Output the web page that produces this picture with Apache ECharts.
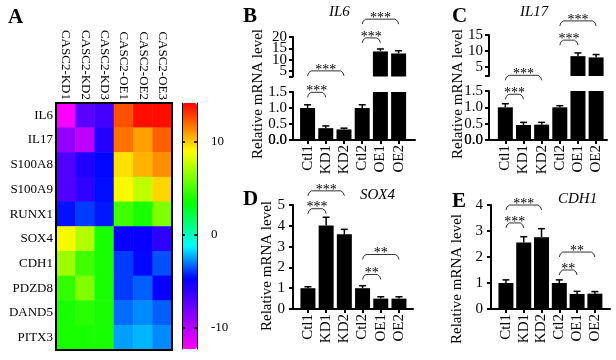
<!DOCTYPE html>
<html lang="en">
<head>
<meta charset="UTF-8">
<title>CASC2 knockdown / overexpression</title>
<script src="https://cdn.jsdelivr.net/npm/echarts@6/dist/echarts.min.js"></script>
<style>html,body{margin:0;padding:0;background:#fff;}</style>
</head>
<body>
<div id="main" style="width:616px;height:360px;"></div>
<script>
// ---- panel A : heatmap ----
var geneRows = ['IL6', 'IL17', 'S100A8', 'S100A9', 'RUNX1', 'SOX4', 'CDH1', 'PDZD8', 'DAND5', 'PITX3'];
var sampleCols = ['CASC2-KD1', 'CASC2-KD2', 'CASC2-KD3', 'CASC2-OE1', 'CASC2-OE2', 'CASC2-OE3'];
var heatValues = [
  [-12.2, -7.3, -6.6, 12.5, 13.9, 13.9],
  [-9.0, -10.3, -5.7, 11.8, 10.9, 12.2],
  [-7.0, -5.6, -4.7, 9.6, 10.5, 11.2],
  [-7.0, -6.0, -4.6, 9.0, 7.6, 9.8],
  [-4.5, -3.9, -4.4, 4.8, 3.9, 6.2],
  [8.9, 7.3, 3.9, -4.9, -4.9, -6.0],
  [6.8, 4.8, 3.9, -3.9, -4.7, -3.6],
  [4.5, 6.2, 3.9, -3.9, -3.4, -4.9],
  [3.9, 4.3, 3.9, -3.2, -2.8, -3.4],
  [3.9, 3.9, 3.9, -2.5, -2.2, -2.8]
];
var scaleMin = -12.3, scaleMax = 14.2;
var scaleTicks = [-10, 0, 10];

// ---- panels B-E : qPCR ----
var groups = ['Ctl1', 'KD1', 'KD2', 'Ctl2', 'OE1', 'OE2'];
var il6Mean = [1.0, 0.37, 0.33, 1.0, 13.6, 12.7];
var il6Err = [0.10, 0.07, 0.04, 0.10, 1.1, 1.2];
var il17Mean = [1.0, 0.46, 0.47, 1.0, 8.4, 8.0];
var il17Err = [0.11, 0.08, 0.07, 0.05, 1.0, 0.9];
var sox4Mean = [1.0, 4.01, 3.59, 1.0, 0.50, 0.50];
var sox4Err = [0.07, 0.40, 0.24, 0.12, 0.09, 0.09];
var cdh1Mean = [1.0, 2.56, 2.76, 1.0, 0.58, 0.59];
var cdh1Err = [0.12, 0.22, 0.33, 0.12, 0.10, 0.08];

// y tick labels; close labels are split over two axes so that none is dropped
var lowTicks = [0, 0.5, 1, 1.5];
var lowLabelsA = [0.5, 1.5], lowLabelsB = [0, 1];
var il6UpTicks = [2.5, 5, 10, 15, 20];
var il6UpLabelsA = [5, 15], il6UpLabelsB = [10, 20];
var il17UpTicks = [2.2, 5, 10, 15];
var il17UpLabelsA = [5, 15], il17UpLabelsB = [10];
var sox4Ticks = [0, 1, 2, 3, 4, 5];
var cdh1Ticks = [0, 1, 2, 3, 4];
// zero labels at the corner of each bar panel: [gridIndex, text, label margin]
var zeroLabels = [[2, '0.0', 6], [4, '0.0', 6], [6, '0', 8], [7, '0', 8]];

// brackets: [from group, to group, height in axis units], plus star labels
var il6Low = [[0, 1, 1.49], [0, 2, 2.16]];
var il6Up = [[3, 4, 19.6], [3, 5, 27.9]];
var il17Low = [[0, 1, 1.40], [0, 2, 1.98]];
var il17Up = [[3, 4, 13.4], [3, 5, 19.4]];
var sox4Br = [[0, 1, 4.82], [0, 2, 5.68], [3, 4, 1.66], [3, 5, 2.62]];
var sox4Sig = ['***', '***', '**', '**'];
var cdh1Br = [[0, 1, 3.31], [0, 2, 4.0], [3, 4, 1.5], [3, 5, 2.19]];
var cdh1Sig = ['***', '***', '**', '**'];

var FONT = '"Liberation Serif", "Times New Roman", serif';

// rainbow scale used by the heatmap (value, colour)
var cmapStops = [[-12.3, '#ff00ff'], [-8.4, '#8000ff'], [-4.7, '#0000ff'], [-1.2, '#00ffff'],
  [3.4, '#00ff00'], [9.0, '#ffff00'], [11.5, '#ff8000'], [14.2, '#ff0000']];

function hexRgb(h) {
  return [parseInt(h.substr(1, 2), 16), parseInt(h.substr(3, 2), 16), parseInt(h.substr(5, 2), 16)];
}
function buildColors(n) {
  var out = [];
  for (var i = 0; i < n; i++) {
    var v = scaleMin + (scaleMax - scaleMin) * i / (n - 1);
    var k = 0;
    while (k < cmapStops.length - 2 && v > cmapStops[k + 1][0]) k++;
    var a = cmapStops[k], b = cmapStops[k + 1];
    var t = Math.max(0, Math.min(1, (v - a[0]) / (b[0] - a[0])));
    var ca = hexRgb(a[1]), cb = hexRgb(b[1]);
    out.push('rgb(' + [0, 1, 2].map(function (j) { return Math.round(ca[j] + (cb[j] - ca[j]) * t); }).join(',') + ')');
  }
  return out;
}

var heatData = [];
heatValues.forEach(function (row, r) {
  row.forEach(function (v, c) { heatData.push([c, r, v]); });
});

var myChart = echarts.init(document.getElementById('main'));

var blackLine = { lineStyle: { color: '#000', width: 2 } };

function groupAxis(grid, min, max) {
  return {
    type: 'value', gridIndex: grid, min: min, max: max, z: 5,
    axisLine: { onZero: false, lineStyle: { color: '#000', width: 2 } },
    axisTick: { customValues: [0, 1, 2, 3, 4, 5], length: 4, lineStyle: { color: '#000', width: 2 } },
    axisLabel: {
      customValues: [0, 1, 2, 3, 4, 5], rotate: 90, margin: 5,
      showMinLabel: true, showMaxLabel: true, hideOverlap: false,
      fontFamily: FONT, fontSize: 15, color: '#000',
      formatter: function (v) { return groups[Math.round(v)]; }
    },
    splitLine: { show: false }
  };
}
function hiddenAxis(grid, min, max) {
  return { type: 'value', gridIndex: grid, min: min, max: max, show: false, axisLine: { onZero: false }, splitLine: { show: false } };
}
function levelAxis(grid, min, max, ticks, labels, fmt, margin) {
  return {
    type: 'value', gridIndex: grid, position: 'left', min: min, max: max, z: 5,
    axisLine: { show: true, onZero: false, lineStyle: { color: '#000', width: 2 } },
    axisTick: { show: true, customValues: ticks, length: 4, lineStyle: { color: '#000', width: 2 } },
    axisLabel: {
      customValues: labels, margin: margin, fontFamily: FONT, fontSize: 15, color: '#000',
      showMinLabel: true, showMaxLabel: true, hideOverlap: false,
      formatter: fmt || function (v) { return String(v); }
    },
    splitLine: { show: false }
  };
}
// extra label-only axis laid over a segment so that close labels are all kept
function labelOnlyAxis(grid, min, max, labels, fmt, margin) {
  var ax = levelAxis(grid, min, max, [], labels, fmt, margin);
  ax.axisLine = { show: false, onZero: false };
  ax.axisTick = { show: false };
  return ax;
}

function barSeries(xi, yi, means) {
  return {
    type: 'bar', xAxisIndex: xi, yAxisIndex: yi, barWidth: 15, clip: true,
    itemStyle: { color: '#000' }, silent: true,
    data: means.map(function (m, i) { return [i, m]; })
  };
}
function errSeries(xi, yi, means, errs) {
  return {
    type: 'custom', xAxisIndex: xi, yAxisIndex: yi, silent: true, z: 3,
    data: means.map(function (m, i) { return [i, m, errs[i]]; }),
    renderItem: function (params, api) {
      var x = api.value(0), m = api.value(1), e = api.value(2);
      var cs = params.coordSys;
      var base = api.coord([x, m]);
      var top = api.coord([x, m + e]);
      if (top[1] < cs.y - 0.5 || top[1] > cs.y + cs.height) return null;
      var st = { stroke: '#000', lineWidth: 1.5 };
      return {
        type: 'group', children: [
          { type: 'line', shape: { x1: top[0], y1: Math.min(base[1], cs.y + cs.height), x2: top[0], y2: top[1] }, style: st },
          { type: 'line', shape: { x1: top[0] - 3.5, y1: top[1], x2: top[0] + 3.5, y2: top[1] }, style: st }
        ]
      };
    }
  };
}
function bracketSeries(xi, yi, list, labels) {
  return {
    type: 'custom', xAxisIndex: xi, yAxisIndex: yi, silent: true, z: 4,
    data: list,
    renderItem: function (params, api) {
      var p1 = api.coord([api.value(0), api.value(2)]);
      var p2 = api.coord([api.value(1), api.value(2)]);
      var y = p1[1];
      return {
        type: 'group', children: [
          {
            type: 'polyline',
            shape: { points: [[p1[0], y + 5], [p1[0] + 1, y + 2], [p1[0] + 3.5, y], [p2[0] - 3.5, y], [p2[0] - 1, y + 2], [p2[0], y + 5]] },
            style: { stroke: '#333', lineWidth: 1, fill: null }
          },
          {
            type: 'text', x: (p1[0] + p2[0]) / 2, y: y - 1,
            style: { text: labels[params.dataIndex], font: '14px ' + FONT, fill: '#000', align: 'center', verticalAlign: 'middle' }
          }
        ]
      };
    }
  };
}
function stars(n) { var a = []; for (var i = 0; i < n; i++) a.push('***'); return a; }

function title(txt, x, y, italic) {
  return { type: 'text', left: x, top: y, style: { text: txt, font: (italic ? 'italic 15px ' : 'bold 21px ') + FONT, fill: '#000' } };
}
function yName(x, y) {
  return {
    type: 'text', x: x, y: y, rotation: Math.PI / 2,
    style: { text: 'Relative mRNA level', font: '15px ' + FONT, fill: '#000', align: 'center', verticalAlign: 'middle' }
  };
}
function oneDecimal(v) { return v.toFixed(1); }
function whole(v) { return String(Math.round(v)); }

var grids = [
  { left: 56, top: 103, width: 116, height: 247 },   // 0 heatmap
  { left: 182, top: 103, width: 15, height: 246 },   // 1 colour scale
  { left: 293, top: 92, width: 122, height: 48 },    // 2 B lower
  { left: 293, top: 37, width: 122, height: 39.5 },  // 3 B upper
  { left: 489, top: 91, width: 118, height: 49 },    // 4 C lower
  { left: 489, top: 35, width: 118, height: 41 },    // 5 C upper
  { left: 293, top: 205, width: 120, height: 104 },  // 6 D
  { left: 491, top: 205, width: 119, height: 104 }   // 7 E
];

var graphics = [
  title('A', 8, 7), title('B', 243, 6), title('C', 452, 6), title('D', 243, 189), title('E', 452, 191),
  title('IL6', 329, 5, true), title('IL17', 520, 5, true), title('SOX4', 360, 188, true), title('CDH1', 558, 192, true),
  yName(258, 94), yName(458, 94), yName(267, 266), yName(457, 279)
];
// the corner zero labels are dropped by the axis layout; place them at each grid's bottom-left corner
zeroLabels.forEach(function (z) {
  var g = grids[z[0]];
  graphics.push({
    type: 'text', x: g.left - z[2], y: g.top + g.height,
    style: { text: z[1], font: '15px ' + FONT, fill: '#000', align: 'right', verticalAlign: 'middle' }
  });
});

var option = {
  animation: false,
  backgroundColor: '#fff',
  textStyle: { fontFamily: FONT },
  grid: grids,
  xAxis: [
    {
      type: 'category', gridIndex: 0, position: 'top', data: sampleCols, z: 6,
      axisLine: blackLine, axisTick: { show: false },
      axisLabel: { rotate: 90, margin: 3, fontFamily: FONT, fontSize: 13, color: '#000', interval: 0 }
    },
    { type: 'category', gridIndex: 0, position: 'bottom', data: sampleCols, z: 6, axisLine: blackLine, axisTick: { show: false }, axisLabel: { show: false } },
    hiddenAxis(1, 0, 1),
    groupAxis(2, -0.8, 5.9),
    hiddenAxis(3, -0.8, 5.9),
    groupAxis(4, -0.9, 5.6),
    hiddenAxis(5, -0.9, 5.6),
    groupAxis(6, -0.82, 5.77),
    groupAxis(7, -0.84, 5.85)
  ],
  yAxis: [
    {
      type: 'category', gridIndex: 0, inverse: true, data: geneRows, z: 6,
      axisLine: blackLine, axisTick: { show: false },
      axisLabel: { margin: 3, fontFamily: FONT, fontSize: 13, color: '#000', interval: 0 }
    },
    { type: 'category', gridIndex: 0, inverse: true, position: 'right', data: geneRows, z: 6, axisLine: blackLine, axisTick: { show: false }, axisLabel: { show: false } },
    {
      type: 'value', gridIndex: 1, min: scaleMin, max: scaleMax, position: 'left', z: 6,
      axisLine: { show: true, onZero: false, lineStyle: { color: '#000', width: 1 } },
      axisTick: { show: true, inside: true, customValues: scaleTicks, length: 3, lineStyle: { color: '#000', width: 1.5 } },
      axisLabel: { show: false }, splitLine: { show: false }
    },
    {
      type: 'value', gridIndex: 1, min: scaleMin, max: scaleMax, position: 'right', z: 6,
      axisLine: { show: true, onZero: false, lineStyle: { color: '#000', width: 1 } },
      axisTick: { show: true, inside: true, customValues: scaleTicks, length: 3, lineStyle: { color: '#000', width: 1.5 } },
      axisLabel: { customValues: scaleTicks, margin: 14, fontFamily: FONT, fontSize: 13, color: '#000', showMinLabel: true, showMaxLabel: true },
      splitLine: { show: false }
    },
    levelAxis(2, 0, 1.5, lowTicks, lowLabelsA, oneDecimal, 6),                // 4
    levelAxis(3, 2.5, 20, il6UpTicks, il6UpLabelsA, null, 6),                  // 5
    levelAxis(4, 0, 1.5, lowTicks, lowLabelsA, oneDecimal, 6),                // 6
    levelAxis(5, 2.2, 15, il17UpTicks, il17UpLabelsA, null, 6),                // 7
    levelAxis(6, 0, 5, sox4Ticks, [1, 2, 3, 4, 5], whole, 8),                  // 8
    levelAxis(7, 0, 4, cdh1Ticks, [1, 2, 3, 4], whole, 8),                     // 9
    labelOnlyAxis(3, 2.5, 20, il6UpLabelsB, null, 6),                          // 10
    labelOnlyAxis(5, 2.2, 15, il17UpLabelsB, null, 6),                         // 11
    labelOnlyAxis(2, 0, 1.5, lowLabelsB, oneDecimal, 6),                       // 12
    labelOnlyAxis(4, 0, 1.5, lowLabelsB, oneDecimal, 6)                        // 13
  ],
  visualMap: {
    type: 'continuous', seriesIndex: 0, min: scaleMin, max: scaleMax,
    calculable: false, hoverLink: false, orient: 'vertical',
    left: 182, top: 103, itemWidth: 15, itemHeight: 246, padding: 0,
    inRange: { color: buildColors(54) }
  },
  graphic: graphics,
  series: [
    {
      type: 'heatmap', xAxisIndex: 0, yAxisIndex: 0, data: heatData, silent: true,
      itemStyle: { borderWidth: 0 }
    },
    barSeries(3, 4, il6Mean), barSeries(4, 5, il6Mean),
    errSeries(3, 4, il6Mean, il6Err), errSeries(4, 5, il6Mean, il6Err),
    bracketSeries(3, 4, il6Low, stars(2)), bracketSeries(4, 5, il6Up, stars(2)),
    barSeries(5, 6, il17Mean), barSeries(6, 7, il17Mean),
    errSeries(5, 6, il17Mean, il17Err), errSeries(6, 7, il17Mean, il17Err),
    bracketSeries(5, 6, il17Low, stars(2)), bracketSeries(6, 7, il17Up, stars(2)),
    barSeries(7, 8, sox4Mean), errSeries(7, 8, sox4Mean, sox4Err), bracketSeries(7, 8, sox4Br, sox4Sig),
    barSeries(8, 9, cdh1Mean), errSeries(8, 9, cdh1Mean, cdh1Err), bracketSeries(8, 9, cdh1Br, cdh1Sig)
  ]
};

myChart.setOption(option);
</script>
</body>
</html>
